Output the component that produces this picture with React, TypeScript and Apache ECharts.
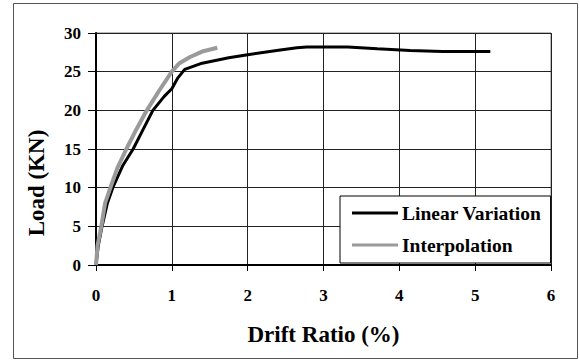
import React, { useEffect, useRef } from "react";
import * as echarts from "echarts";

const linearVariation: [number, number][] = [
  [0, 0], [0.03, 2.5], [0.08, 5], [0.15, 8], [0.23, 10.2], [0.35, 12.8], [0.49, 15],
  [0.62, 17.5], [0.75, 20], [0.9, 21.8], [1.0, 22.8], [1.08, 24.2], [1.17, 25.3],
  [1.4, 26.1], [1.75, 26.8], [2.0, 27.2], [2.43, 27.8], [2.65, 28.1], [2.78, 28.2],
  [3.32, 28.2], [3.71, 27.95], [4.14, 27.75], [4.57, 27.6], [5.2, 27.6],
];

const interpolation: [number, number][] = [
  [0, 0], [0.02, 2.5], [0.07, 5], [0.12, 8], [0.19, 10], [0.28, 12.5], [0.4, 15],
  [0.53, 17.5], [0.67, 20], [0.83, 22.5], [1.0, 25], [1.1, 26.1], [1.24, 26.9],
  [1.4, 27.6], [1.6, 28.1],
];

const xTicks = [0, 1, 2, 3, 4, 5, 6];
const yTicks = [0, 5, 10, 15, 20, 25, 30];

const seriesNames = ["Linear Variation", "Interpolation"];
const xTitle = "Drift Ratio (%)";
const yTitle = "Load (KN)";

const FONT = "Liberation Serif";

export default function App() {
  const ref = useRef<HTMLDivElement>(null);
  useEffect(() => {
    if (!ref.current) return;
    const chart = echarts.init(ref.current, null, { renderer: "svg" });
    chart.setOption({
      animation: false,
      backgroundColor: "#ffffff",
      textStyle: { fontFamily: FONT },
      grid: {
        left: 96,
        right: 28,
        top: 33,
        bottom: 95,
        show: true,
        borderColor: "#777777",
        borderWidth: 1,
        backgroundColor: "transparent",
      },
      graphic: [
        {
          type: "rect",
          shape: { x: 13.5, y: 3.5, width: 564, height: 355 },
          style: { fill: "none", stroke: "#555555", lineWidth: 1 },
          silent: true,
        },
        {
          type: "text",
          x: 36,
          y: 183,
          rotation: Math.PI / 2,
          style: {
            text: yTitle,
            fontFamily: FONT,
            fontWeight: "bold",
            fontSize: 23,
            fill: "#000",
            align: "center",
            verticalAlign: "middle",
          },
        },
      ],
      legend: {
        orient: "vertical",
        left: 340,
        top: 196,
        width: 211,
        padding: [7, 9, 8, 12],
        itemGap: 12,
        itemWidth: 46,
        itemHeight: 3,
        backgroundColor: "#ffffff",
        borderColor: "#000000",
        borderWidth: 1,
        borderRadius: 0,
        data: [
          { name: seriesNames[0], icon: "rect", itemStyle: { color: "#000000" } },
          { name: seriesNames[1], icon: "rect", itemStyle: { color: "#9a9a9a" } },
        ],
        textStyle: {
          fontFamily: FONT,
          fontWeight: "bold",
          fontSize: 19.5,
          color: "#000",
          padding: [0, 0, 0, -1],
        },
      },
      xAxis: {
        type: "value",
        min: 0,
        max: 6,
        interval: 1,
        name: xTitle,
        nameLocation: "middle",
        nameGap: 58,
        nameTextStyle: {
          fontFamily: FONT,
          fontWeight: "bold",
          fontSize: 23,
          color: "#000",
        },
        axisLine: { show: true, onZero: false, lineStyle: { color: "#000", width: 2 } },
        axisTick: { show: true, length: 6, lineStyle: { color: "#000", width: 1 } },
        axisLabel: {
          margin: 22,
          fontFamily: FONT,
          fontWeight: "bold",
          fontSize: 17,
          color: "#000",
          formatter: (v: number) => (xTicks.includes(v) ? String(v) : ""),
        },
        splitLine: { show: true, lineStyle: { color: "#222", width: 1 } },
      },
      yAxis: {
        type: "value",
        min: 0,
        max: 30,
        interval: 5,
        axisLine: { show: true, onZero: false, lineStyle: { color: "#000", width: 2 } },
        axisTick: { show: true, length: 8, lineStyle: { color: "#000", width: 1 } },
        axisLabel: {
          margin: 15,
          fontFamily: FONT,
          fontWeight: "bold",
          fontSize: 17,
          color: "#000",
          formatter: (v: number) => (yTicks.includes(v) ? String(v) : ""),
        },
        splitLine: { show: true, lineStyle: { color: "#222", width: 1 } },
      },
      series: [
        {
          name: seriesNames[0],
          type: "line",
          data: linearVariation,
          symbol: "none",
          z: 3,
          lineStyle: { color: "#000000", width: 3 },
          itemStyle: { color: "#000000" },
        },
        {
          name: seriesNames[1],
          type: "line",
          data: interpolation,
          symbol: "none",
          z: 4,
          lineStyle: { color: "#9a9a9a", width: 4 },
          itemStyle: { color: "#9a9a9a" },
        },
      ],
    });
    return () => chart.dispose();
  }, []);
  return (
    <div
      ref={ref}
      style={{ position: "fixed", left: 0, top: 0, width: 579, height: 360 }}
    />
  );
}
